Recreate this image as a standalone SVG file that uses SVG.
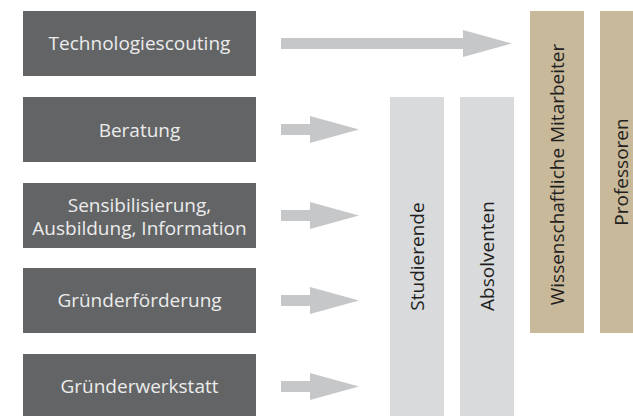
<svg xmlns="http://www.w3.org/2000/svg" width="633" height="416" viewBox="0 0 633 416">
<style>
.box{fill:#636466}
.lbl{fill:#ececec;font-family:"Open Sans","Liberation Sans",sans-serif;font-size:19px;text-anchor:middle}
.arr{fill:#c6c7c8}
.grey{fill:#d9dadc}
.tan{fill:#c9b99b}
.vt{fill:#231f20;font-family:"Open Sans","Liberation Sans",sans-serif;font-size:19px;text-anchor:middle}
</style>
<rect width="633" height="416" fill="#ffffff"/>
<g id="connectors">
<polygon class="arr" points="281,38 463,38 463,30 512,43.5 463,57 463,49 281,49"/>
<polygon class="arr" points="281,124 310,124 310,116 359,129.5 310,143 310,135 281,135"/>
<polygon class="arr" points="281,210 310,210 310,202 359,215.5 310,229 310,221 281,221"/>
<polygon class="arr" points="281,295 310,295 310,287 359,300.5 310,314 310,306 281,306"/>
<polygon class="arr" points="281,381 310,381 310,373 359,386.5 310,400 310,392 281,392"/>
</g>
<g id="technologiescouting">
<rect class="box" x="23" y="11" width="233" height="65"/>
<text class="lbl" x="139.5" y="50">Technologiescouting</text>
</g>
<g id="beratung">
<rect class="box" x="23" y="97" width="233" height="65"/>
<text class="lbl" x="139.5" y="136.5">Beratung</text>
</g>
<g id="sensibilisierung">
<rect class="box" x="23" y="183" width="233" height="65"/>
<text class="lbl" x="139.5" y="211.5">Sensibilisierung,</text>
<text class="lbl" x="139.5" y="235">Ausbildung, Information</text>
</g>
<g id="gruenderfoerderung">
<rect class="box" x="23" y="268" width="233" height="65"/>
<text class="lbl" x="139.5" y="307">Gründerförderung</text>
</g>
<g id="gruenderwerkstatt">
<rect class="box" x="23" y="354" width="233" height="65"/>
<text class="lbl" x="139.5" y="393">Gründerwerkstatt</text>
</g>
<g id="studierende">
<rect class="grey" x="390" y="97" width="54" height="319"/>
<text class="vt" transform="translate(424,256.5) rotate(-90)">Studierende</text>
</g>
<g id="absolventen">
<rect class="grey" x="460" y="97" width="54" height="319"/>
<text class="vt" transform="translate(494,256) rotate(-90)">Absolventen</text>
</g>
<g id="wissenschaftliche-mitarbeiter">
<rect class="tan" x="530" y="11" width="54" height="322"/>
<text class="vt" transform="translate(563.5,174.5) rotate(-90)">Wissenschaftliche Mitarbeiter</text>
</g>
<g id="professoren">
<rect class="tan" x="600" y="11" width="54" height="322"/>
<text class="vt" transform="translate(627.5,172) rotate(-90)">Professoren</text>
</g>
</svg>
